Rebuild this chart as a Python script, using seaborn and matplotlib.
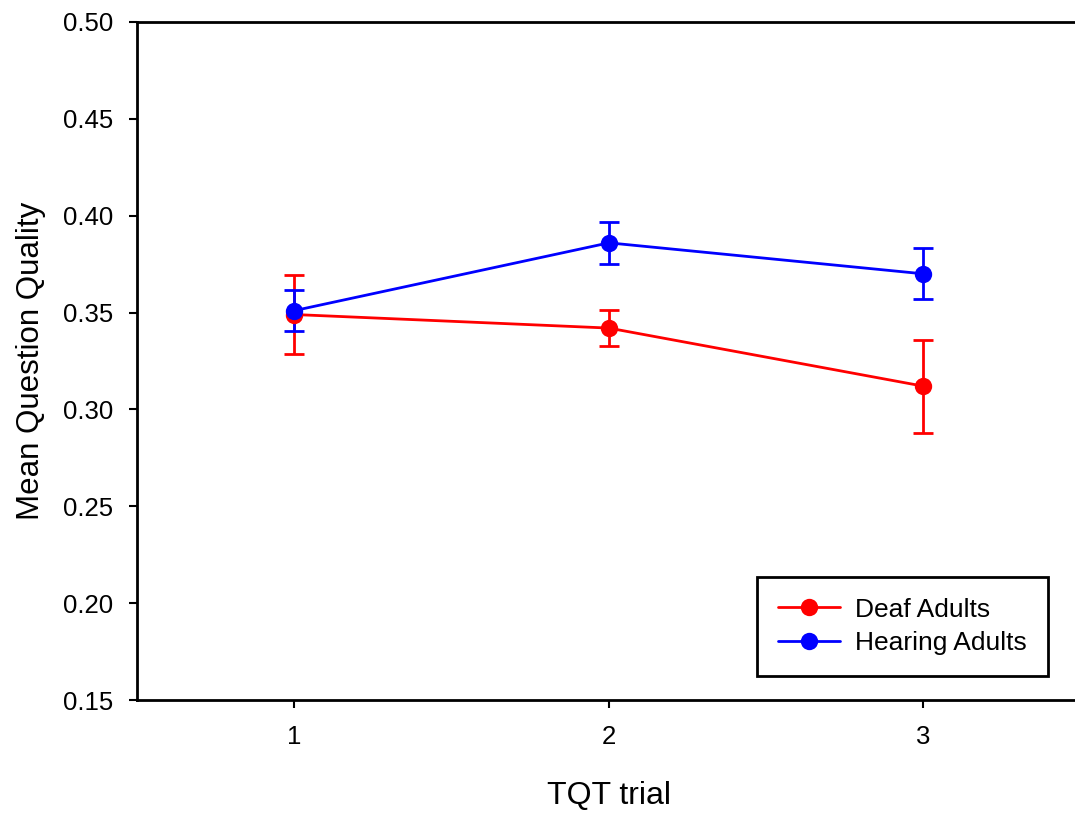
import pandas as pd
import matplotlib
matplotlib.use("Agg")
import matplotlib.pyplot as plt
import seaborn as sns

# Data
trials = [1, 2, 3]
deaf_mean = [0.349, 0.342, 0.312]
deaf_err = [0.0205, 0.0095, 0.024]
hearing_mean = [0.351, 0.386, 0.370]
hearing_err = [0.0105, 0.0108, 0.0131]

groups = ["Deaf Adults", "Hearing Adults"]
colors = {"Deaf Adults": "#ff0000", "Hearing Adults": "#0000ff"}

df = pd.DataFrame({
    "trial": trials * 2,
    "quality": deaf_mean + hearing_mean,
    "err": deaf_err + hearing_err,
    "group": [groups[0]] * 3 + [groups[1]] * 3,
})

sns.set_style("ticks")
plt.rcParams["font.family"] = ["Liberation Sans", "DejaVu Sans"]
plt.rcParams["text.color"] = "black"
plt.rcParams["axes.labelcolor"] = "black"

fig = plt.figure(figsize=(10.75, 8.14), dpi=100)
ax = fig.add_axes([0.1274, 0.14, 0.878, 0.833])

# error bars first
for g in groups:
    sub = df[df["group"] == g]
    ax.errorbar(sub["trial"], sub["quality"], yerr=sub["err"], fmt="none",
                ecolor=colors[g], elinewidth=2, capsize=7.5, capthick=2, zorder=2)

sns.lineplot(data=df, x="trial", y="quality", hue="group", palette=colors,
             marker="o", markersize=12.5, markeredgewidth=0, linewidth=2,
             ax=ax, zorder=3)

ax.set_xlim(0.5, 3.5)
ax.set_ylim(0.15, 0.50)
ax.set_xticks(trials)
ax.set_yticks([0.15, 0.20, 0.25, 0.30, 0.35, 0.40, 0.45, 0.50])
ax.set_yticklabels([f"{v:.2f}" for v in ax.get_yticks()])
ax.tick_params(axis="both", labelsize=18.5, direction="out", length=6, width=1.5,
               colors="black")
ax.tick_params(axis="y", pad=11)
ax.tick_params(axis="x", pad=12)
for s in ax.spines.values():
    s.set_linewidth(2)
    s.set_color("black")

ax.set_xlabel("TQT trial", fontsize=23, labelpad=23)
ax.set_ylabel("Mean Question Quality", fontsize=22.5, labelpad=12)

leg = ax.legend(loc="lower right", bbox_to_anchor=(0.965, 0.0354), borderaxespad=0,
                fontsize=19, frameon=True, fancybox=False, edgecolor="black",
                framealpha=1, handlelength=2.35, handletextpad=0.57,
                borderpad=0.8, labelspacing=0.35)
leg.get_frame().set_linewidth(2)
leg.set_title(None)

fig.savefig("out.png", dpi=100)
